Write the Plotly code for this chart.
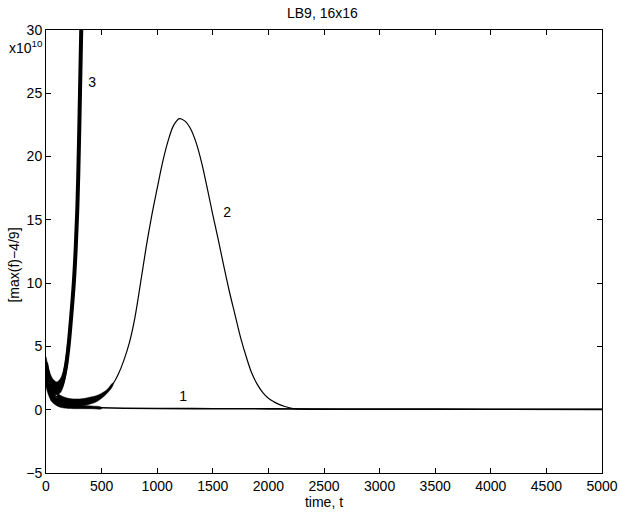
import plotly.graph_objects as go

# ---- data (values in units of 1e10) ----
t1 = [0, 25, 50, 100, 150, 200, 300, 400, 500, 700, 1000, 1500, 2000, 3000, 4000, 5000]
v1 = [2.8, 1.7, 1.1, 0.6, 0.4, 0.3, 0.22, 0.18, 0.15, 0.12, 0.1, 0.08, 0.07, 0.05, 0.04, 0.03]

t2 = [0, 20, 50, 100, 150, 200, 250, 300, 350, 400, 450, 500, 550, 600, 650, 700, 750,
      800, 850, 900, 950, 1000, 1050, 1100, 1150, 1200, 1250, 1300, 1350, 1400, 1450,
      1500, 1550, 1600, 1650, 1700, 1750, 1800, 1850, 1900, 1950, 2000, 2050, 2100,
      2150, 2200, 2250, 2300, 2400, 3000, 4000, 5000]
v2 = [3.0, 2.2, 1.5, 1.0, 0.75, 0.6, 0.55, 0.55, 0.6, 0.7, 0.85, 1.1, 1.45, 2.0, 2.8, 3.9, 5.3,
      7.3, 10.0, 12.8, 15.3, 17.5, 19.6, 21.3, 22.5, 23.0, 22.8, 22.2, 21.1, 19.5, 17.5,
      15.4, 13.4, 11.3, 9.3, 7.5, 5.7, 4.2, 2.9, 2.0, 1.35, 0.9, 0.62, 0.4,
      0.25, 0.13, 0.07, 0.04, 0.03, 0.02, 0.02, 0.02]

t3 = [0, 25, 50, 75, 100, 125, 150, 175, 200, 225, 250, 267, 280, 290, 300, 310, 318]
v3 = [3.7, 2.6, 2.0, 1.7, 1.6, 1.7, 2.2, 3.2, 4.8, 7.2, 10.0, 12.7, 15.5, 18.5, 22.5, 27.0, 30.5]

# noisy envelope of curve 1 in the early part
tb1 = [0, 25, 50, 100, 150, 200, 300, 400, 500]
lo_b1 = [1.8, 1.1, 0.65, 0.3, 0.15, 0.1, 0.08, 0.08, 0.08]
hi_b1 = [3.4, 2.3, 1.6, 0.9, 0.55, 0.4, 0.35, 0.3, 0.2]

# noisy envelope of curve 2 in the early part
tb2 = [100, 150, 200, 250, 300, 350, 400, 450, 500, 550, 600]
lo_b2 = [0.7, 0.5, 0.35, 0.3, 0.3, 0.35, 0.45, 0.6, 0.9, 1.3, 1.9]
hi_b2 = [1.3, 1.05, 0.9, 0.85, 0.85, 0.9, 1.0, 1.1, 1.3, 1.6, 2.1]

# noisy envelope of curve 3
tb3 = [0, 25, 50, 75, 100, 125, 150, 175, 200]
lo_b3 = [2.8, 2.0, 1.5, 1.2, 1.2, 1.3, 1.7, 2.6, 4.0]
hi_b3 = [4.2, 3.2, 2.6, 2.3, 2.2, 2.4, 2.9, 3.9, 5.6]

label_text = ["3", "2", "1"]
label_t = [414, 1630, 1234]
label_v = [25.8, 15.5, 1.0]

xticks = [0, 500, 1000, 1500, 2000, 2500, 3000, 3500, 4000, 4500, 5000]
yticks = [-5, 0, 5, 10, 15, 20, 25, 30]

FONT = "Liberation Sans, Arial, Helvetica"
FS = 14

fig = go.Figure()

for tb, lo, hi in [(tb1, lo_b1, hi_b1), (tb2, lo_b2, hi_b2), (tb3, lo_b3, hi_b3)]:
    fig.add_trace(go.Scatter(x=tb + tb[::-1], y=lo + hi[::-1], fill="toself",
                             fillcolor="black", line=dict(width=0.5, color="black"),
                             mode="lines", line_shape="spline",
                             hoverinfo="skip", showlegend=False))

fig.add_trace(go.Scatter(x=t1, y=v1, mode="lines", line=dict(color="black", width=1.6),
                         line_shape="spline", showlegend=False))
fig.add_trace(go.Scatter(x=t2, y=v2, mode="lines", line=dict(color="black", width=1.2),
                         line_shape="spline", showlegend=False))
fig.add_trace(go.Scatter(x=t3, y=v3, mode="lines", line=dict(color="black", width=4),
                         line_shape="spline", showlegend=False))
fig.add_trace(go.Scatter(x=label_t, y=label_v, mode="text", text=label_text,
                         textfont=dict(family=FONT, size=FS, color="black"),
                         showlegend=False))

axis_common = dict(showline=True, linecolor="black", linewidth=1, mirror="ticks",
                   ticks="inside", ticklen=5, tickcolor="black", showgrid=False,
                   zeroline=False, automargin=False,
                   tickfont=dict(family=FONT, size=FS, color="black"))

fig.update_xaxes(range=[0, 5000], tickvals=xticks, ticktext=[str(v) for v in xticks],
                 title=dict(text="time, t", standoff=0,
                            font=dict(family=FONT, size=FS, color="black")),
                 **axis_common)
fig.update_yaxes(range=[-5, 30], tickvals=yticks,
                 ticktext=[("\u2212" + str(-v)) if v < 0 else str(v) for v in yticks],
                 **axis_common)

fig.add_annotation(text="[max(f)\u22124/9]", textangle=-90, xref="paper", yref="paper",
                   x=-0.058, y=0.47, showarrow=False, xanchor="center", yanchor="middle",
                   font=dict(family=FONT, size=FS, color="black"))
fig.add_annotation(text="x10<sup>10</sup>", xref="paper", yref="paper",
                   x=-0.002, y=0.962, showarrow=False, xanchor="right", yanchor="middle",
                   font=dict(family=FONT, size=FS, color="black"))

fig.update_layout(
    width=620, height=512,
    margin=dict(l=46, r=18, t=30, b=39),
    paper_bgcolor="white", plot_bgcolor="white",
    title=dict(text="LB9, 16x16", x=0.52, xanchor="center", y=0.974, yanchor="middle",
               font=dict(family=FONT, size=FS, color="black")),
)

# remove the default page margin so the 620x512 figure fills the window exactly
fig.write_html("out.html",
               config={"displayModeBar": False},
               post_script="document.body.style.margin='0';document.body.style.overflow='hidden';")
